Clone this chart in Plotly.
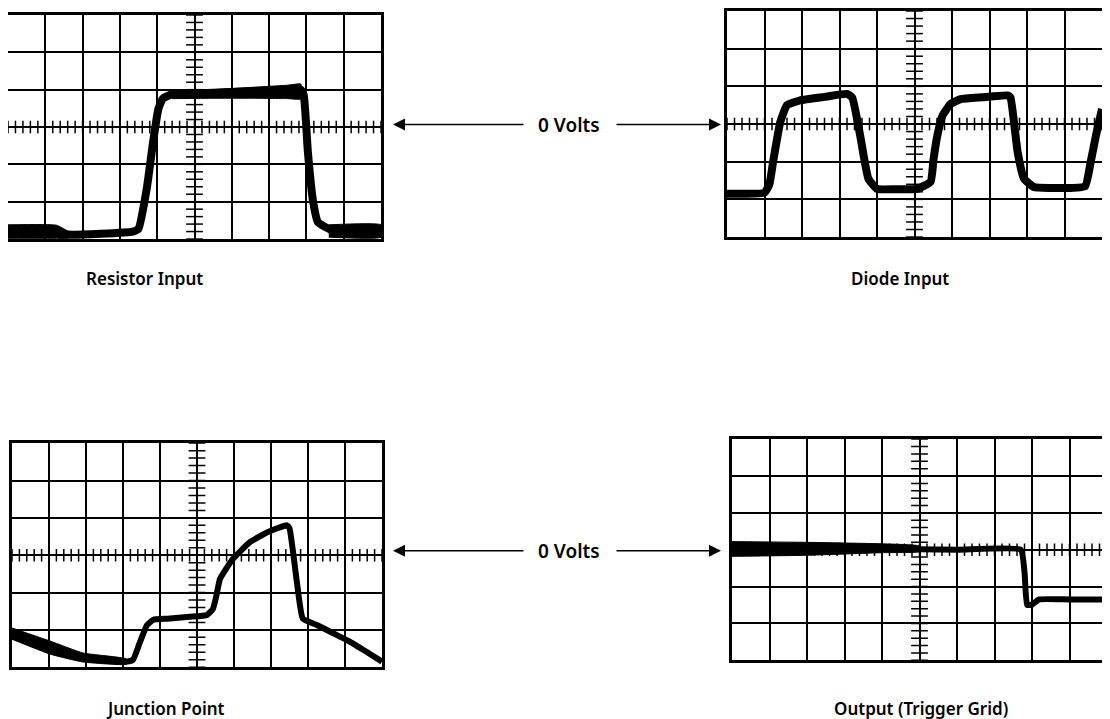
import numpy as np
import plotly.graph_objects as go

# ---- data (in screen divisions: x 0..10, y -3..3, 0 = "0 Volts") ----
titles = ["Resistor Input", "Diode Input", "Junction Point", "Output (Trigger Grid)"]

x_resistor = [0, 1.3, 1.6, 3.35, 3.5, 3.72, 3.89, 4.03, 4.15, 4.35, 5.0, 6.0, 7.0, 7.85, 7.93, 8.04, 8.18, 8.31, 8.63, 9.3, 10]
y_resistor = [-2.78, -2.78, -2.88, -2.8, -2.72, -1.65, -0.4, 0.48, 0.76, 0.86, 0.9, 0.94, 0.98, 1.0, 0.85, -0.67, -2.0, -2.55, -2.74, -2.78, -2.8]

x_diode = [0, 1.0, 1.13, 1.23, 1.42, 1.6, 1.95, 2.6, 3.2, 3.34, 3.55, 3.77, 4.0, 4.5, 5.08, 5.43, 5.51, 5.61,
           5.75, 5.96, 6.23, 6.8, 7.48, 7.56, 7.75, 7.92, 8.18, 9.0, 9.55, 9.7, 9.84, 10.0]
y_diode = [-1.85, -1.82, -1.6, -1.0, 0.05, 0.5, 0.63, 0.72, 0.8, 0.7, -0.3, -1.45, -1.72, -1.73, -1.72, -1.53, -0.92, -0.3,
           0.23, 0.53, 0.66, 0.71, 0.76, 0.7, -0.74, -1.45, -1.67, -1.7, -1.65, -1.0, -0.3, 0.4]

x_junction = [0, 0.5, 1.03, 1.5, 1.92, 2.5, 3.1, 3.27, 3.45, 3.65, 3.82, 4.2, 4.8, 5.27, 5.43, 5.52, 5.62, 5.97,
              6.43, 6.89, 7.43, 7.5, 7.7, 7.86, 8.24, 8.7, 9.14, 9.6, 10.0]
y_junction = [-2.05, -2.3, -2.5, -2.65, -2.77, -2.82, -2.85, -2.8, -2.35, -1.87, -1.73, -1.7, -1.65, -1.6, -1.44, -1.1,
              -0.64, -0.1, 0.35, 0.61, 0.8, 0.72, -0.72, -1.7, -1.87, -2.1, -2.32, -2.6, -2.85]

x_output = [0, 2.0, 4.0, 6.0, 7.7, 7.8, 7.87, 8.0, 8.19, 9.0, 10.0]
y_output = [0.05, 0.04, 0.02, 0.0, 0.0, -0.6, -1.5, -1.49, -1.35, -1.35, -1.35]

# smeared (thick) parts of the traces: x, upper edge, lower edge
bands_resistor = [([4.4, 5.5, 6.5, 7.5, 7.85], [0.93, 1.0, 1.06, 1.12, 1.15], [0.76, 0.77, 0.77, 0.76, 0.75]),
                  ([0, 1.3, 1.6], [-2.62, -2.63, -2.8], [-2.98, -2.98, -2.98]),
                  ([8.6, 10], [-2.62, -2.62], [-2.95, -2.95])]
bands_diode = []
bands_junction = [([0, 1.03, 1.92, 3.1], [-1.95, -2.3, -2.62, -2.78], [-2.25, -2.65, -2.86, -2.92])]
bands_output = [([0, 2.0, 4.0, 5.0], [0.22, 0.2, 0.16, 0.1], [-0.18, -0.15, -0.08, -0.05])]

series = [(x_resistor, y_resistor, 8, bands_resistor), (x_diode, y_diode, 8, bands_diode),
          (x_junction, y_junction, 6, bands_junction), (x_output, y_output, 6, bands_output)]

# page offset of the plot div (browser body margin) and figure size
OFF = 8
W, H = 1102, 711
# panel boxes and label centres, in window pixels
domains = [((8, 381), (12, 237)), ((727, 1102), (8, 235)),
           ((12, 382), (442, 667)), ((732, 1107), (438, 660))]
label_pos = [(144, 277), (900, 277), (165, 708), (921, 708)]
volts_rows = [122, 550]


def px(v):
    return (v - OFF) / W


def py(v):
    return 1 - (v - OFF) / H


FONT = dict(family="Noto Sans", size=17, color="black", weight=600)
VFONT = dict(family="Noto Sans", size=19, color="black", weight=600)

fig = go.Figure()
layout = dict(width=W, height=H, margin=dict(l=0, r=0, t=0, b=0), autosize=False,
              paper_bgcolor="white", plot_bgcolor="white", showlegend=False)

minor = np.round(np.arange(0, 10.001, 0.2), 2)
minor_y = np.round(np.arange(-3, 3.001, 0.2), 2)

for i, ((xs, ys, w, bands), ((x0, x1), (y0, y1))) in enumerate(zip(series, domains)):
    sfx = "" if i == 0 else str(i + 1)
    xa, ya = "x" + sfx, "y" + sfx
    layout["xaxis" + sfx] = dict(domain=[px(x0), px(x1)], range=[0, 10], dtick=1, tick0=0,
                                 showgrid=True, gridcolor="black", gridwidth=2,
                                 showline=True, linecolor="black", linewidth=2.5, mirror=True,
                                 showticklabels=False, zeroline=False, ticks="", anchor=ya,
                                 fixedrange=True)
    layout["yaxis" + sfx] = dict(domain=[py(y1), py(y0)], range=[-3, 3], dtick=1, tick0=0,
                                 showgrid=True, gridcolor="black", gridwidth=2,
                                 showline=True, linecolor="black", linewidth=2.5, mirror=True,
                                 showticklabels=False, zeroline=False, ticks="", anchor=xa,
                                 fixedrange=True)
    # minor tick marks on the centre cross
    fig.add_trace(go.Scatter(x=minor, y=np.zeros_like(minor), xaxis=xa, yaxis=ya, mode="markers",
                             marker=dict(symbol="line-ns", size=9, line=dict(width=1.5, color="black")),
                             hoverinfo="skip"))
    fig.add_trace(go.Scatter(x=np.full_like(minor_y, 5.0), y=minor_y, xaxis=xa, yaxis=ya, mode="markers",
                             marker=dict(symbol="line-ew", size=12, line=dict(width=1.5, color="black")),
                             hoverinfo="skip"))
    # smeared parts of the trace
    for bx, bu, bl in bands:
        fig.add_trace(go.Scatter(x=list(bx) + list(bx)[::-1], y=list(bu) + list(bl)[::-1],
                                 xaxis=xa, yaxis=ya, mode="lines", fill="toself", fillcolor="black",
                                 line=dict(color="black", width=1, shape="spline", smoothing=0.4),
                                 hoverinfo="skip"))
    # trace
    fig.add_trace(go.Scatter(x=xs, y=ys, xaxis=xa, yaxis=ya, mode="lines",
                             line=dict(color="black", width=w, shape="spline", smoothing=0.4)))

annotations = []
for (lx, ly), t in zip(label_pos, titles):
    annotations.append(dict(x=px(lx), y=py(ly), xref="paper", yref="paper", text=t,
                            showarrow=False, font=FONT, xanchor="center", yanchor="middle"))
for vy in volts_rows:
    annotations.append(dict(x=px(569), y=py(vy), xref="paper", yref="paper", text="0 Volts",
                            showarrow=False, font=VFONT, xanchor="center", yanchor="middle"))
    annotations.append(dict(x=px(393), y=py(vy), xref="paper", yref="paper", text="",
                            showarrow=True, ax=132, ay=0, arrowhead=2, arrowsize=1.6,
                            arrowwidth=1.5, arrowcolor="black"))
    annotations.append(dict(x=px(721), y=py(vy), xref="paper", yref="paper", text="",
                            showarrow=True, ax=-106, ay=0, arrowhead=2, arrowsize=1.6,
                            arrowwidth=1.5, arrowcolor="black"))
layout["annotations"] = annotations
fig.update_layout(**layout)
fig.write_html("out.html")
